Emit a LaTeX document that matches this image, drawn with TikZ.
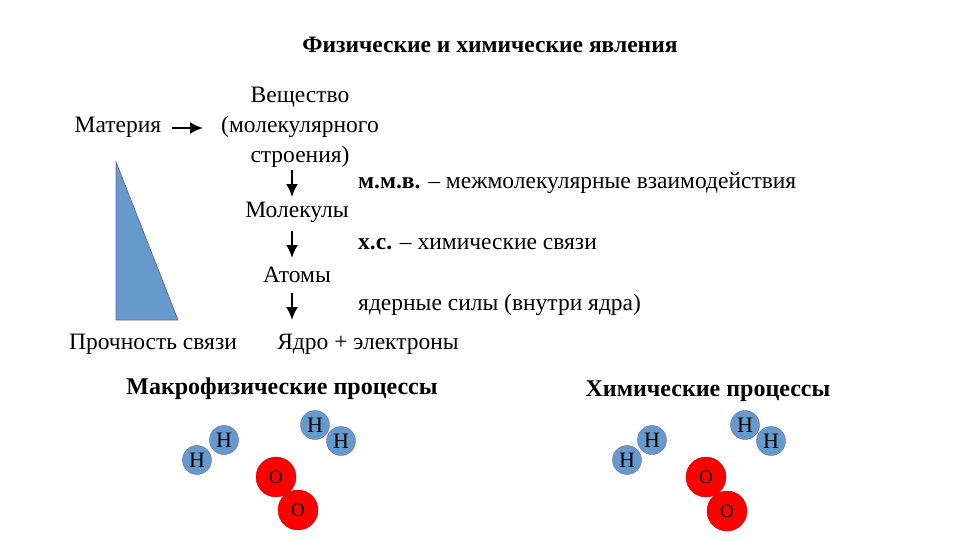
\documentclass[tikz,border=0pt]{standalone}
\usepackage{fontspec}
\setmainfont{Liberation Serif}
\usetikzlibrary{arrows.meta}
\begin{document}
\begin{tikzpicture}[x=1pt,y=-1pt,
  txt/.style={inner sep=0pt,font=\fontsize{23.5}{26}\selectfont},
  hd/.style={inner sep=0pt,font=\fontsize{24}{26}\selectfont\bfseries},
  arr/.style={-{Latex[length=13pt,width=12pt]},line width=2.2pt},
  hat/.style={circle,draw=blue!40!black!60,fill=hb,minimum size=29pt,inner sep=0pt,font=\fontsize{22}{22}\selectfont},
  oat/.style={circle,draw=red!80!black,fill=red,minimum size=40pt,inner sep=0pt,font=\fontsize{19}{20}\selectfont}]
\useasboundingbox (0,0) rectangle (960,540);
\colorlet{hb}{blue!50!cyan!50!gray!80}
\node[hd,font=\fontsize{23.5}{26}\selectfont\bfseries] (t) at (490,45) {Физические и химические явления};
\node[txt] (mat) at (118,127) {Материя};
\coordinate (ma1) at (172,128); \coordinate (ma2) at (203,128);
\draw[arr] (ma1) -- (ma2);
\node[txt,align=center,font=\fontsize{23.5}{30}\selectfont] (ves) at (300,127) {Вещество\\(молекулярного\\строения)};
\node[txt] (mol) at (297,212) {Молекулы};
\node[txt] (at) at (297,275) {Атомы};
\node[txt] (yad) at (368,344) {Ядро + электроны};
\coordinate (a1) at (292,170); \coordinate (a2) at (292,197);
\coordinate (b1) at (292,231); \coordinate (b2) at (292,258);
\coordinate (c1) at (292,293); \coordinate (c2) at (292,320);
\draw[arr] (a1) -- (a2); \draw[arr] (b1) -- (b2); \draw[arr] (c1) -- (c2);
\node[txt,anchor=west] (l1) at (358,183) {\textbf{м.м.в.} – межмолекулярные взаимодействия};
\node[txt,anchor=west] (l2) at (358,244) {\textbf{х.с.} – химические связи};
\node[txt,anchor=west] (l3) at (358,305) {ядерные силы (внутри ядра)};
\node[txt] (pr) at (153,344) {Прочность связи};
\filldraw[fill=hb,draw=blue!40!black!60,line width=0.8pt] (116,162) -- (116,320) -- (178,320) -- cycle;
\node[hd] (mp) at (282,389) {Макрофизические процессы};
\node[hd] (hp) at (708,391) {Химические процессы};
\node[hat] (h1) at (197,460) {H};
\node[hat] (h2) at (224,440) {H};
\node[hat] (h3) at (315,425) {H};
\node[hat] (h4) at (341,441) {H};
\node[oat] (o1) at (276,477) {O};
\node[oat] (o2) at (298,510) {O};
\node[hat] (h5) at (627,460) {H};
\node[hat] (h6) at (652,440) {H};
\node[hat] (h7) at (745,425) {H};
\node[hat] (h8) at (771,441) {H};
\node[oat] (o3) at (706,477) {O};
\node[oat] (o4) at (727,511) {O};
\end{tikzpicture}
\end{document}
